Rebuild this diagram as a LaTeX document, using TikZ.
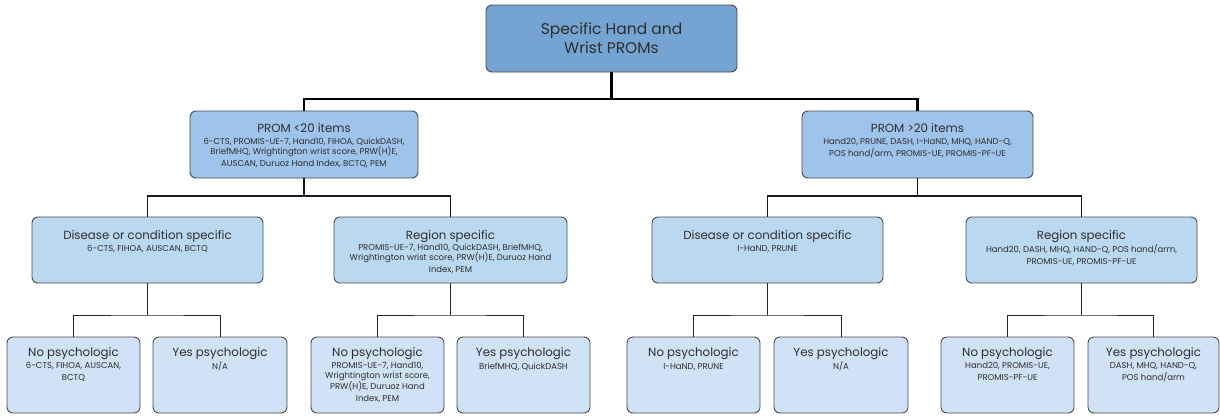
\documentclass[tikz,border=0pt]{standalone}
\usepackage{fontspec}
\setmainfont{Poppins}
\definecolor{cA}{HTML}{74A4D2}
\definecolor{cB}{HTML}{9EC4EC}
\definecolor{cC}{HTML}{BAD9F0}
\definecolor{cD}{HTML}{D0E2F5}
\definecolor{bord}{HTML}{4A4A4A}
\definecolor{txt}{HTML}{2E2E2E}
\newcommand{\bx}[5]{\parbox[c][#2pt][t]{#1pt}{\centering\vspace*{#3pt}{\fontsize{11.8}{13}\selectfont #4}\par\vspace{0.9pt}{\fontsize{8.5}{10.2}\selectfont #5}}}
\tikzset{
  pbox/.style={draw=bord, line width=0.9pt, rounded corners=6pt, inner sep=0pt, text=txt},
  l1/.style={line width=2.4pt, black},
  l2/.style={line width=1.8pt, black!90},
  l3/.style={line width=1pt, black!85},
}
\begin{document}
\begin{tikzpicture}[x=1pt,y=-1pt]
\useasboundingbox (0,0) rectangle (1220,416);
% root
\node[pbox, fill=cA] (root) at (611.5,38.5) {\parbox[c][67pt][c]{251pt}{\centering\fontsize{15.5}{19}\selectfont Specific Hand and\\Wrist PROMs}};
% level 2
\node[pbox, fill=cB] (pa) at (304,144.5) {\bx{228}{67}{13}{PROM <20 items}{6-CTS, PROMIS-UE-7, Hand10, FIHOA, QuickDASH,\\BriefMHQ, Wrightington wrist score, PRW(H)E,\\AUSCAN, Duruoz Hand Index, BCTQ, PEM}};
\node[pbox, fill=cB] (pb) at (917.5,144.5) {\bx{231}{67}{13}{PROM >20 items}{Hand20, PRUNE, DASH, I-HaND, MHQ, HAND-Q,\\POS hand/arm, PROMIS-UE, PROMIS-PF-UE}};
% level 3
\node[pbox, fill=cC] (da) at (147.5,250) {\bx{231}{66}{13}{Disease or condition specific}{6-CTS, FIHOA, AUSCAN, BCTQ}};
\node[pbox, fill=cC] (ra) at (450.5,250) {\bx{233}{66}{13}{Region specific}{PROMIS-UE-7, Hand10, QuickDASH, BriefMHQ,\\Wrightington wrist score, PRW(H)E, Duruoz Hand\\Index, PEM}};
\node[pbox, fill=cC] (db) at (767.5,250) {\bx{231}{66}{13}{Disease or condition specific}{I-HaND, PRUNE}};
\node[pbox, fill=cC] (rb) at (1081.5,250) {\bx{231}{66}{13}{Region specific}{Hand20, DASH, MHQ, HAND-Q, POS hand/arm,\\PROMIS-UE, PROMIS-PF-UE}};
% level 4
\node[pbox, fill=cD] (n1) at (73.5,375) {\bx{133}{76}{11}{No psychologic}{6-CTS, FIHOA, AUSCAN,\\BCTQ}};
\node[pbox, fill=cD] (y1) at (220,375) {\bx{134}{76}{11}{Yes psychologic}{N/A}};
\node[pbox, fill=cD] (n2) at (377.5,375) {\bx{133}{76}{11}{No psychologic}{PROMIS-UE-7, Hand10,\\Wrightington wrist score,\\PRW(H)E, Duruoz Hand\\Index, PEM}};
\node[pbox, fill=cD] (y2) at (523.5,375) {\bx{133}{76}{11}{Yes psychologic}{BriefMHQ, QuickDASH}};
\node[pbox, fill=cD] (n3) at (693.5,375) {\bx{133}{76}{11}{No psychologic}{I-HaND, PRUNE}};
\node[pbox, fill=cD] (y3) at (841,375) {\bx{134}{76}{11}{Yes psychologic}{N/A}};
\node[pbox, fill=cD] (n4) at (1007.5,375) {\bx{133}{76}{11}{No psychologic}{Hand20, PROMIS-UE,\\PROMIS-PF-UE}};
\node[pbox, fill=cD] (y4) at (1153.5,375) {\bx{131}{76}{11}{Yes psychologic}{DASH, MHQ, HAND-Q,\\POS hand/arm}};
% connectors
\coordinate (j0) at (611.5,99);
\draw[l1] (root.south) -- (j0);
\draw[l1] (pa.north) |- (j0) -| (pb.north);
\coordinate (ja) at (304,196);
\coordinate (jb) at (917.5,196);
\draw[l2] (pa.south) -- (ja);
\draw[l2] (da.north) |- (ja) -| (ra.north);
\draw[l2] (pb.south) -- (jb);
\draw[l2] (db.north) |- (jb) -| (rb.north);
\coordinate (k1) at (147.5,315);
\coordinate (k2) at (450.5,315);
\coordinate (k3) at (767.5,315);
\coordinate (k4) at (1081.5,315);
\draw[l3] (da.south) -- (k1);
\draw[l3] (n1.north) |- (k1) -| (y1.north);
\draw[l3] (ra.south) -- (k2);
\draw[l3] (n2.north) |- (k2) -| (y2.north);
\draw[l3] (db.south) -- (k3);
\draw[l3] (n3.north) |- (k3) -| (y3.north);
\draw[l3] (rb.south) -- (k4);
\draw[l3] (n4.north) |- (k4) -| (y4.north);
\end{tikzpicture}
\end{document}
